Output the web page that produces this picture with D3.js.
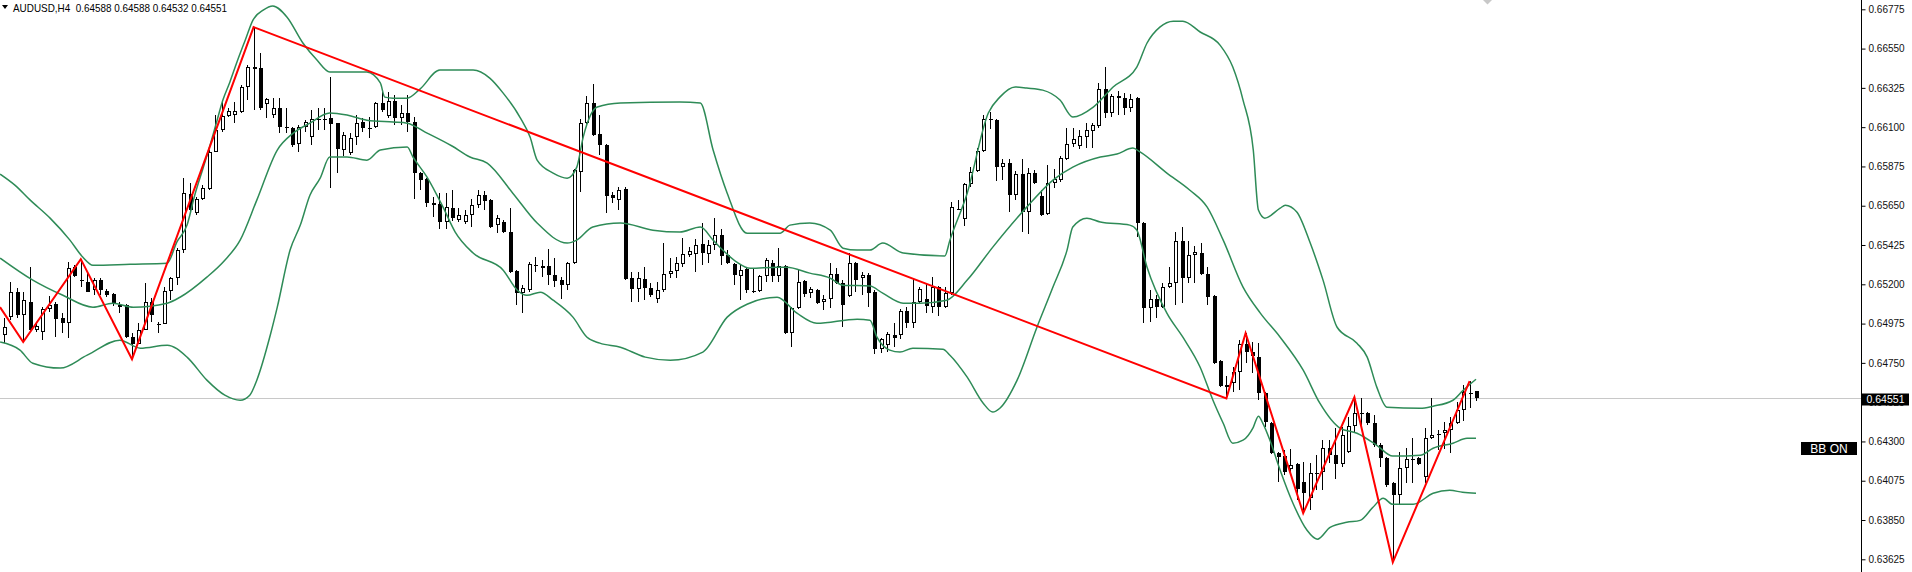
<!DOCTYPE html>
<html><head><meta charset="utf-8">
<script src="https://cdn.jsdelivr.net/npm/d3@7"></script>
<style>html,body{margin:0;padding:0;background:#fff;overflow:hidden}</style>
</head><body>
<svg id="c" width="1912" height="572"></svg>
<script>
const symbol = "AUDUSD,H4";
const lastQuote = ["0.64588","0.64588","0.64532","0.64551"];
const currentPrice = 0.64551;
const indicatorLabel = "BB ON";
const priceTicks = [0.63625,0.63850,0.64075,0.64300,0.64525,0.64750,0.64975,0.65200,0.65425,0.65650,0.65875,0.66100,0.66325,0.66550,0.66775];

const open = [
0.64908,0.65012,0.65155,0.65023,0.65098,0.64937,0.64926,0.65057,0.65086,0.65006,
0.64977,0.65298,0.65229,0.65213,0.65166,0.65224,0.65160,0.65143,0.65069,0.65080,
0.64897,0.64857,0.64937,0.65098,0.64977,0.64971,0.65160,0.65235,0.65396,0.65716,
0.65608,0.65687,0.65745,0.65958,0.66083,0.66164,0.66169,0.66187,0.66330,0.66444,
0.66438,0.66232,0.66169,0.66209,0.66106,0.66094,0.66003,0.66100,0.66043,0.66146,
0.66152,0.66152,0.66123,0.65969,0.65952,0.66043,0.66129,0.66100,0.66100,0.66238,
0.66164,0.66249,0.66152,0.66181,0.66129,0.65837,0.65802,0.65665,0.65659,0.65557,
0.65636,0.65568,0.65557,0.65596,0.65653,0.65710,0.65682,0.65539,0.65557,0.65499,
0.65275,0.65149,0.65166,0.65309,0.65292,0.65304,0.65252,0.65224,0.65195,0.65321,
0.65843,0.66123,0.66238,0.66060,0.65997,0.65710,0.65682,0.65745,0.65235,0.65172,
0.65229,0.65178,0.65114,0.65166,0.65258,0.65275,0.65315,0.65367,0.65373,0.65430,
0.65373,0.65424,0.65481,0.65367,0.65315,0.65247,0.65286,0.65166,0.65160,0.65247,
0.65321,0.65247,0.65304,0.64920,0.65063,0.65218,0.65149,0.65166,0.65098,0.65114,
0.65258,0.65207,0.65132,0.65321,0.65235,0.65252,0.65155,0.64828,0.64851,0.64908,
0.64908,0.65046,0.64977,0.65098,0.65114,0.65069,0.65184,0.65069,0.65149,0.65630,
0.65573,0.65774,0.65848,0.65963,0.66146,0.66140,0.65871,0.65894,0.65710,0.65831,
0.65614,0.65837,0.65705,0.65602,0.65780,0.65797,0.65917,0.66003,0.65992,0.66043,
0.66077,0.66106,0.66318,0.66181,0.66278,0.66266,0.66209,0.66266,0.65551,0.65063,
0.65114,0.65069,0.65184,0.65207,0.65447,0.65235,0.65367,0.65379,0.65258,0.65132,
0.64759,0.64622,0.64634,0.64697,0.64857,0.64812,0.64783,0.64576,0.64404,0.64233,
0.64216,0.64140,0.64169,0.64067,0.63974,0.64118,0.64124,0.64261,0.64221,0.64169,
0.64239,0.64387,0.64462,0.64462,0.64404,0.64278,0.64204,0.64061,0.63991,0.64146,
0.64198,0.64204,0.64095,0.64318,0.64347,0.64347,0.64364,0.64404,0.64479,0.64576,
0.64588];
const high = [
0.65006,0.65213,0.65178,0.65155,0.65298,0.64983,0.65069,0.65132,0.65098,0.65035,
0.65327,0.65309,0.65344,0.65270,0.65235,0.65235,0.65172,0.65149,0.65098,0.65086,
0.64920,0.64977,0.65207,0.65120,0.64983,0.65184,0.65241,0.65407,0.65808,0.65780,
0.65699,0.65768,0.65969,0.66169,0.66244,0.66209,0.66244,0.66341,0.66455,0.66673,
0.66524,0.66266,0.66266,0.66266,0.66209,0.66100,0.66111,0.66140,0.66198,0.66209,
0.66209,0.66387,0.66123,0.66072,0.66066,0.66169,0.66152,0.66158,0.66244,0.66312,
0.66301,0.66283,0.66226,0.66283,0.66158,0.65843,0.65808,0.65699,0.65722,0.65722,
0.65739,0.65636,0.65625,0.65687,0.65739,0.65733,0.65687,0.65596,0.65568,0.65636,
0.65281,0.65195,0.65327,0.65356,0.65338,0.65401,0.65350,0.65241,0.65327,0.65859,
0.66146,0.66278,0.66347,0.66169,0.66003,0.65728,0.65757,0.65757,0.65270,0.65270,
0.65298,0.65207,0.65213,0.65436,0.65350,0.65356,0.65464,0.65413,0.65458,0.65551,
0.65453,0.65579,0.65516,0.65396,0.65321,0.65309,0.65292,0.65292,0.65252,0.65350,
0.65338,0.65407,0.65309,0.65069,0.65281,0.65224,0.65184,0.65172,0.65137,0.65321,
0.65292,0.65224,0.65379,0.65327,0.65270,0.65264,0.65166,0.64891,0.64926,0.64977,
0.65057,0.65069,0.65235,0.65184,0.65207,0.65241,0.65190,0.65184,0.65671,0.65682,
0.65780,0.65871,0.65980,0.66169,0.66187,0.66146,0.65917,0.65917,0.65848,0.65917,
0.65865,0.65854,0.65739,0.65882,0.65859,0.65935,0.66094,0.66094,0.66083,0.66123,
0.66123,0.66353,0.66444,0.66289,0.66306,0.66295,0.66289,0.66272,0.65557,0.65166,
0.65137,0.65207,0.65298,0.65499,0.65528,0.65447,0.65419,0.65436,0.65298,0.65137,
0.64765,0.64674,0.64725,0.64880,0.64920,0.64869,0.64863,0.64582,0.64410,0.64239,
0.64250,0.64255,0.64175,0.64181,0.64175,0.64221,0.64307,0.64307,0.64375,0.64381,
0.64439,0.64553,0.64547,0.64468,0.64450,0.64290,0.64210,0.64067,0.64239,0.64261,
0.64318,0.64210,0.64375,0.64547,0.64364,0.64410,0.64439,0.64525,0.64622,0.64645,
0.64588];
const low = [
0.64863,0.64994,0.65006,0.64869,0.64926,0.64926,0.64880,0.65041,0.64897,0.64920,
0.64891,0.65241,0.65184,0.65155,0.65137,0.65137,0.65126,0.65075,0.65035,0.64891,
0.64771,0.64857,0.64937,0.64983,0.64920,0.64971,0.65109,0.65195,0.65379,0.65608,
0.65596,0.65682,0.65739,0.65958,0.66072,0.66158,0.66123,0.66181,0.66255,0.66198,
0.66198,0.66152,0.66152,0.66066,0.66066,0.65986,0.65958,0.66072,0.65997,0.66083,
0.66083,0.65751,0.65837,0.65935,0.65940,0.65997,0.66072,0.66037,0.66094,0.66187,
0.66152,0.66111,0.66111,0.66072,0.65687,0.65739,0.65642,0.65585,0.65516,0.65516,
0.65562,0.65557,0.65545,0.65528,0.65636,0.65625,0.65522,0.65493,0.65493,0.65264,
0.65080,0.65035,0.65155,0.65270,0.65241,0.65195,0.65184,0.65114,0.65166,0.65315,
0.65728,0.66117,0.66049,0.65940,0.65608,0.65665,0.65625,0.65224,0.65098,0.65098,
0.65109,0.65126,0.65092,0.65155,0.65235,0.65235,0.65298,0.65356,0.65270,0.65309,
0.65321,0.65396,0.65309,0.65315,0.65195,0.65109,0.65149,0.65149,0.65155,0.65213,
0.65213,0.65213,0.64914,0.64840,0.65057,0.65126,0.65120,0.65086,0.65052,0.65063,
0.65201,0.64954,0.65126,0.65155,0.65137,0.65069,0.64800,0.64806,0.64812,0.64840,
0.64885,0.64948,0.64948,0.65092,0.65035,0.65035,0.65018,0.65063,0.65137,0.65625,
0.65534,0.65757,0.65843,0.65958,0.66088,0.65791,0.65797,0.65614,0.65682,0.65499,
0.65487,0.65774,0.65591,0.65596,0.65751,0.65786,0.65911,0.65986,0.65974,0.65980,
0.65980,0.66094,0.66152,0.66158,0.66169,0.66169,0.66187,0.65470,0.64977,0.64983,
0.65006,0.65063,0.65178,0.65080,0.65092,0.65207,0.65207,0.65252,0.65080,0.64742,
0.64611,0.64547,0.64582,0.64593,0.64748,0.64691,0.64536,0.64381,0.64227,0.64067,
0.64106,0.64124,0.63963,0.63889,0.63906,0.64020,0.64020,0.64175,0.64083,0.64152,
0.64233,0.64353,0.64375,0.64392,0.64267,0.64152,0.64038,0.63608,0.63934,0.64061,
0.64061,0.64163,0.64061,0.64312,0.64250,0.64255,0.64233,0.64398,0.64415,0.64490,
0.64532];
const close = [
0.64954,0.65155,0.65023,0.65109,0.64937,0.64960,0.65057,0.65080,0.65000,0.64977,
0.65292,0.65247,0.65224,0.65155,0.65224,0.65166,0.65137,0.65086,0.65080,0.64897,
0.64857,0.64937,0.65098,0.65023,0.64971,0.65160,0.65235,0.65396,0.65722,0.65625,
0.65687,0.65751,0.65958,0.66083,0.66164,0.66192,0.66192,0.66330,0.66444,0.66432,
0.66209,0.66260,0.66209,0.66100,0.66100,0.65997,0.66100,0.66129,0.66146,0.66152,
0.66146,0.66117,0.65974,0.66054,0.66037,0.66123,0.66094,0.66094,0.66238,0.66198,
0.66249,0.66152,0.66181,0.66129,0.65837,0.65797,0.65665,0.65653,0.65557,0.65642,
0.65579,0.65596,0.65596,0.65653,0.65710,0.65676,0.65528,0.65579,0.65499,0.65270,
0.65149,0.65178,0.65315,0.65315,0.65304,0.65252,0.65218,0.65195,0.65321,0.65854,
0.66123,0.66238,0.66054,0.65997,0.65705,0.65693,0.65739,0.65229,0.65172,0.65235,
0.65178,0.65137,0.65166,0.65258,0.65275,0.65321,0.65373,0.65390,0.65424,0.65379,
0.65424,0.65481,0.65362,0.65321,0.65252,0.65281,0.65166,0.65160,0.65247,0.65338,
0.65247,0.65304,0.64920,0.65063,0.65213,0.65143,0.65172,0.65092,0.65114,0.65258,
0.65207,0.65080,0.65321,0.65224,0.65252,0.65149,0.64828,0.64885,0.64914,0.64891,
0.65046,0.64977,0.65098,0.65172,0.65075,0.65184,0.65069,0.65149,0.65642,0.65636,
0.65774,0.65843,0.65963,0.66146,0.66152,0.65871,0.65894,0.65710,0.65831,0.65614,
0.65837,0.65780,0.65596,0.65780,0.65802,0.65923,0.66003,0.66031,0.66049,0.66083,
0.66111,0.66318,0.66181,0.66278,0.66266,0.66209,0.66260,0.65551,0.65063,0.65114,
0.65069,0.65184,0.65207,0.65447,0.65235,0.65367,0.65385,0.65258,0.65126,0.64748,
0.64617,0.64611,0.64697,0.64857,0.64812,0.64789,0.64576,0.64410,0.64233,0.64210,
0.64124,0.64163,0.64026,0.64003,0.64118,0.64124,0.64261,0.64221,0.64169,0.64336,
0.64387,0.64462,0.64468,0.64404,0.64278,0.64204,0.64049,0.63991,0.64146,0.64198,
0.64204,0.64169,0.64318,0.64335,0.64341,0.64364,0.64404,0.64479,0.64582,0.64582,
0.64551];

// ZigZag vertices: [bar index, price]
const zigzag = [[-0.625,0.65069],[3,0.64869],[12,0.65344],[20,0.64771],[39,0.66673],[191,0.64547],[194,0.64920],[203,0.63889],[211,0.64553],[217,0.63608],[229,0.64645]];

// Bollinger bands: [bar index, price]
const bbUpper = [[-0.6,0.65831],[1.7,0.65768],[4.1,0.65682],[7.2,0.65579],[10.3,0.65453],[12.3,0.65356],[13.9,0.65309],[19.7,0.65315],[25.5,0.65321],[27.0,0.65442],[28.6,0.65539],[29.8,0.65710],[31.1,0.65865],[32.2,0.65997],[33.3,0.66140],[34.2,0.66255],[35.3,0.66359],[36.4,0.66473],[37.7,0.66599],[38.9,0.66713],[40.5,0.66770],[42.0,0.66794],[44.2,0.66731],[46.7,0.66582],[48.9,0.66484],[50.9,0.66416],[56.7,0.66416],[58.8,0.66353],[59.5,0.66272],[60.8,0.66266],[63.0,0.66266],[65.0,0.66318],[68.1,0.66427],[73.3,0.66427],[75.9,0.66381],[78.0,0.66295],[80.6,0.66158],[82.2,0.66043],[83.3,0.65911],[85.8,0.65837],[88.0,0.65808],[89.5,0.65871],[90.5,0.66043],[92.7,0.66215],[96.3,0.66238],[105.6,0.66244],[108.8,0.66238],[110.8,0.65969],[113.0,0.65722],[116.1,0.65493],[121.3,0.65493],[122.8,0.65539],[125.9,0.65551],[129.1,0.65510],[131.1,0.65407],[133.3,0.65396],[135.3,0.65396],[137.3,0.65436],[140.5,0.65379],[147.0,0.65362],[147.8,0.65453],[150.5,0.65722],[153.8,0.66181],[155.6,0.66272],[158.0,0.66330],[159.8,0.66324],[162.3,0.66312],[165.0,0.66255],[167.0,0.66158],[170.2,0.66215],[173.3,0.66330],[177.0,0.66444],[178.6,0.66582],[180.6,0.66673],[182.7,0.66707],[184.2,0.66707],[186.9,0.66645],[190.0,0.66570],[192.0,0.66444],[193.6,0.66255],[195.2,0.65969],[196.0,0.65625],[197.0,0.65579],[199.4,0.65636],[200.2,0.65653],[202.0,0.65614],[204.1,0.65436],[206.1,0.65224],[208.3,0.64954],[211.4,0.64863],[213.0,0.64783],[214.5,0.64611],[216.1,0.64496],[221.3,0.64490],[223.3,0.64502],[226.4,0.64536],[228.0,0.64593],[230.0,0.64656]];
const bbMiddle = [[-0.6,0.65350],[4.5,0.65224],[9.2,0.65137],[13.9,0.65069],[17.0,0.65092],[20.2,0.65069],[25.5,0.65092],[27.5,0.65126],[31.7,0.65241],[34.5,0.65338],[36.9,0.65453],[39.5,0.65682],[42.7,0.65969],[45.2,0.66066],[47.8,0.66123],[50.9,0.66181],[53.6,0.66169],[56.7,0.66140],[60.8,0.66129],[63.0,0.66123],[65.8,0.66072],[70.0,0.65992],[72.8,0.65929],[75.5,0.65894],[79.5,0.65722],[83.3,0.65551],[88.0,0.65436],[89.5,0.65453],[92.0,0.65528],[96.3,0.65551],[101.4,0.65510],[105.6,0.65499],[108.8,0.65528],[110.8,0.65453],[112.3,0.65396],[114.5,0.65327],[116.6,0.65292],[120.8,0.65298],[122.3,0.65298],[125.9,0.65264],[129.1,0.65235],[131.1,0.65195],[135.3,0.65190],[137.3,0.65149],[140.5,0.65092],[143.1,0.65092],[147.3,0.65109],[150.5,0.65224],[154.5,0.65413],[159.8,0.65642],[163.9,0.65797],[167.0,0.65871],[171.3,0.65929],[173.9,0.65946],[176.4,0.65980],[177.5,0.65958],[181.7,0.65837],[185.3,0.65739],[188.0,0.65642],[190.5,0.65453],[193.6,0.65184],[196.3,0.65035],[199.4,0.64897],[203.0,0.64708],[205.6,0.64519],[208.8,0.64375],[211.4,0.64347],[214.5,0.64278],[217.0,0.64216],[221.3,0.64221],[223.3,0.64261],[226.4,0.64290],[228.6,0.64318],[230.0,0.64318]];
const bbLower = [[-0.6,0.64869],[2.5,0.64823],[4.5,0.64748],[8.8,0.64720],[13.0,0.64794],[18.1,0.64880],[21.3,0.64834],[25.5,0.64851],[28.6,0.64783],[31.7,0.64651],[34.5,0.64565],[36.9,0.64536],[38.4,0.64565],[39.5,0.64651],[41.6,0.64908],[42.7,0.65069],[44.7,0.65396],[46.3,0.65539],[47.8,0.65710],[49.4,0.65808],[50.9,0.65929],[53.6,0.65929],[56.7,0.65911],[58.8,0.65969],[63.0,0.65986],[63.9,0.65929],[66.1,0.65814],[68.6,0.65642],[70.5,0.65499],[73.3,0.65379],[78.0,0.65281],[80.2,0.65166],[81.7,0.65137],[83.8,0.65155],[85.8,0.65109],[88.9,0.65012],[91.1,0.64897],[93.1,0.64863],[96.3,0.64840],[100.2,0.64783],[104.1,0.64765],[109.2,0.64812],[113.0,0.65012],[116.1,0.65086],[120.8,0.65126],[123.9,0.65035],[127.0,0.64977],[133.3,0.65000],[135.3,0.64994],[136.4,0.64897],[138.4,0.64823],[140.0,0.64812],[142.0,0.64834],[146.7,0.64828],[147.8,0.64794],[150.5,0.64668],[153.0,0.64519],[154.5,0.64468],[155.6,0.64490],[158.3,0.64651],[161.4,0.64954],[163.9,0.65184],[166.1,0.65396],[167.0,0.65528],[169.2,0.65579],[171.3,0.65557],[175.9,0.65539],[177.0,0.65510],[178.6,0.65298],[181.7,0.65035],[184.2,0.64897],[186.9,0.64725],[188.9,0.64536],[190.5,0.64404],[192.0,0.64290],[193.6,0.64307],[195.2,0.64381],[196.0,0.64445],[196.7,0.64404],[197.8,0.64307],[199.4,0.64135],[201.4,0.63946],[203.6,0.63791],[205.2,0.63740],[207.2,0.63808],[209.8,0.63837],[211.9,0.63848],[213.9,0.63923],[215.5,0.63974],[217.0,0.63940],[220.2,0.63940],[223.3,0.64003],[225.9,0.64020],[227.9,0.64009],[230.0,0.64003]];

const W = 1912, H = 572, axisX = 1861.5;
const FONT = "'Liberation Sans', Arial, sans-serif";
const svg = d3.select("#c");
svg.append("rect").attr("width", W).attr("height", H).attr("fill", "#fff");

const x = d3.scaleLinear().domain([0, open.length - 1]).range([4, 1476]);
const y = d3.scaleLinear().domain([0.63625, 0.66775]).range([559.3, 9.3]);

// current price line
const yc = Math.round(y(currentPrice)) + 0.5;
svg.append("line").attr("x1", 0).attr("x2", axisX).attr("y1", yc).attr("y2", yc)
  .attr("stroke", "#c8c8c8").attr("stroke-width", 1);

// candles
const cg = svg.append("g").attr("shape-rendering", "crispEdges");
d3.range(open.length).forEach(i => {
  const cx = Math.round(x(i));
  const o = open[i], c = close[i];
  cg.append("line").attr("x1", cx + 0.5).attr("x2", cx + 0.5)
    .attr("y1", y(high[i])).attr("y2", y(low[i])).attr("stroke", "#000").attr("stroke-width", 1);
  const top = y(Math.max(o, c)), bot = y(Math.min(o, c));
  const h = bot - top;
  if (h < 1.6) {
    cg.append("rect").attr("x", cx - 1).attr("y", Math.round((top + bot) / 2)).attr("width", 4).attr("height", 1).attr("fill", "#000");
  } else if (c < o) {
    cg.append("rect").attr("x", cx - 1).attr("y", top).attr("width", 4).attr("height", h).attr("fill", "#000");
  } else {
    cg.append("rect").attr("x", cx - 0.5).attr("y", top + 0.5).attr("width", 3).attr("height", Math.max(1, h - 1))
      .attr("fill", "#fff").attr("stroke", "#000").attr("stroke-width", 1);
  }
});

// Bollinger bands
const bandLine = d3.line().x(d => x(d[0])).y(d => y(d[1])).curve(d3.curveMonotoneX);
[bbUpper, bbMiddle, bbLower].forEach(b => {
  svg.append("path").attr("d", bandLine(b)).attr("fill", "none")
    .attr("stroke", "#2e8b57").attr("stroke-width", 1.5).attr("stroke-linejoin", "round");
});

// ZigZag
const zzLine = d3.line().x(d => x(d[0])).y(d => y(d[1]));
svg.append("path").attr("d", zzLine(zigzag)).attr("fill", "none")
  .attr("stroke", "#ff0000").attr("stroke-width", 2).attr("stroke-linejoin", "miter");

// right price axis
svg.append("line").attr("x1", axisX).attr("x2", axisX).attr("y1", 0).attr("y2", H)
  .attr("stroke", "#000").attr("stroke-width", 1);
const axis = d3.axisRight(y).tickValues(priceTicks).tickSize(4).tickPadding(3)
  .tickFormat(d3.format(".5f"));
const ag = svg.append("g").attr("transform", `translate(${axisX},0)`).call(axis);
ag.select(".domain").remove();
ag.selectAll(".tick line").attr("stroke", "#000");
ag.selectAll(".tick text").attr("font-family", FONT).attr("font-size", 10).attr("fill", "#111");

// current price label
svg.append("rect").attr("x", 1862).attr("y", yc - 5).attr("width", 47).attr("height", 12).attr("fill", "#000");
svg.append("text").attr("x", 1885.5).attr("y", yc + 4.5).attr("text-anchor", "middle")
  .attr("font-family", FONT).attr("font-size", 10.5).attr("fill", "#fff").text(currentPrice.toFixed(5));

// BB ON label
svg.append("rect").attr("x", 1801).attr("y", 442).attr("width", 56).attr("height", 13).attr("fill", "#000");
svg.append("text").attr("x", 1829).attr("y", 453).attr("text-anchor", "middle")
  .attr("font-family", FONT).attr("font-size", 12).attr("fill", "#fff").text(indicatorLabel);

// title
svg.append("path").attr("d", "M2,5 L8,5 L5,9 Z").attr("fill", "#000");
svg.append("text").attr("x", 13).attr("y", 11.5).attr("font-family", FONT).attr("font-size", 11)
  .attr("fill", "#000").attr("xml:space", "preserve")
  .attr("textLength", 214).attr("lengthAdjust", "spacingAndGlyphs")
  .text(symbol + "  " + lastQuote.join(" "));

// small marker at top
svg.append("path").attr("d", "M1483,0 L1492,0 L1487.5,4.5 Z").attr("fill", "#c8c8c8");
</script>
</body></html>
